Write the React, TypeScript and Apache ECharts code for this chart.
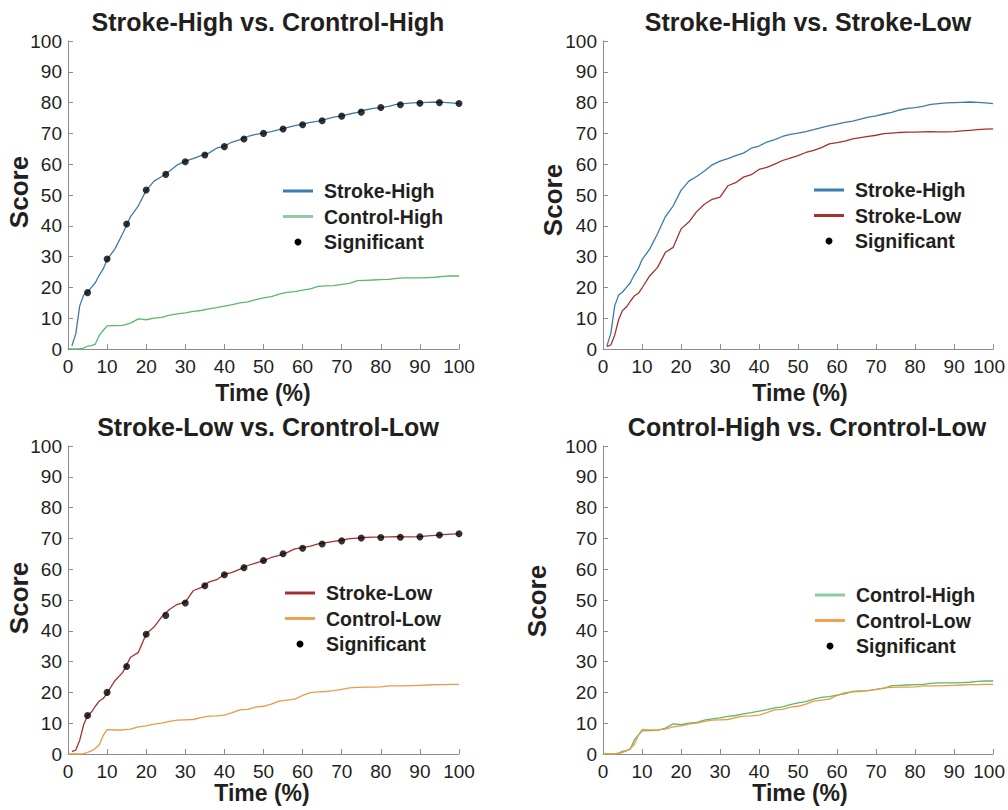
import React, { useEffect, useRef } from "react";
import * as echarts from "echarts";

const time = [0, 1, 2, 3, 4, 5, 6, 7, 8, 9, 10, 12, 14, 16, 18, 20, 22, 24, 26, 28, 30, 32, 34, 36, 38, 40, 42, 44, 46, 48, 50, 52, 54, 56, 58, 60, 62, 64, 66, 68, 70, 72, 74, 76, 78, 80, 82, 84, 86, 88, 90, 92, 94, 96, 98, 100];

const strokeHigh = [null, 1, 5, 14, 17.5, 18.5, 20, 21.5, 24, 26, 29, 32.5, 37.5, 43, 46.5, 51.5, 54.5, 56, 57.8, 59.8, 61, 61.8, 62.8, 63.6, 65.2, 65.9, 67.2, 68, 69, 69.7, 70.1, 70.6, 71.2, 71.9, 72.5, 73, 73.6, 74, 74.6, 75.3, 75.7, 76.3, 76.8, 77.6, 78.1, 78.4, 78.8, 79.4, 79.7, 79.9, 80, 80.1, 80.2, 80.1, 79.9, 79.7];

const strokeLow = [null, 0.8, 1.3, 4.5, 9.5, 12.5, 13.6, 15.5, 17.2, 18, 19.8, 23.8, 26.5, 31.4, 33, 39, 41.2, 44.6, 47, 48.6, 49.3, 53, 54, 55.8, 56.6, 58.3, 59, 60, 61.2, 62, 62.8, 63.8, 64.5, 65.4, 66.6, 67, 67.5, 68.2, 68.6, 69, 69.4, 69.9, 70.1, 70.3, 70.4, 70.4, 70.5, 70.6, 70.5, 70.5, 70.6, 70.8, 71, 71.2, 71.4, 71.5];

const controlHigh = [0, 0, 0, 0.1, 0.3, 0.9, 1.1, 1.6, 4.5, 6, 7.5, 7.6, 7.7, 8.4, 9.8, 9.5, 10, 10.3, 11, 11.4, 11.7, 12.2, 12.5, 13, 13.4, 13.9, 14.4, 15, 15.3, 16, 16.6, 17, 17.8, 18.4, 18.6, 19.1, 19.5, 20.3, 20.5, 20.6, 21, 21.3, 22.2, 22.3, 22.4, 22.5, 22.6, 22.9, 23.1, 23.1, 23.1, 23.2, 23.3, 23.6, 23.7, 23.7];

const controlLow = [0, 0, 0, 0, 0.1, 0.5, 1, 1.8, 3, 6, 7.9, 7.8, 7.8, 8.1, 8.8, 9.1, 9.7, 10, 10.6, 11, 11.1, 11.2, 11.8, 12.3, 12.4, 12.6, 13.4, 14.3, 14.5, 15.2, 15.5, 16.2, 17.2, 17.5, 17.8, 19, 19.9, 20.2, 20.3, 20.6, 21, 21.5, 21.6, 21.7, 21.7, 21.8, 22.1, 22.1, 22.1, 22.2, 22.3, 22.4, 22.5, 22.5, 22.6, 22.6];

const sigTime = [5, 10, 15, 20, 25, 30, 35, 40, 45, 50, 55, 60, 65, 70, 75, 80, 85, 90, 95, 100];
const sigStrokeHigh = [18.3, 29.2, 40.6, 51.6, 56.7, 60.8, 63.0, 65.7, 68.2, 70.0, 71.4, 72.8, 74.1, 75.6, 76.9, 78.4, 79.3, 79.8, 80.0, 79.7];
const sigStrokeLow = [12.5, 20.0, 28.4, 38.9, 45.0, 49.0, 54.6, 58.2, 60.5, 62.8, 65.0, 66.8, 68.2, 69.2, 70.1, 70.3, 70.4, 70.5, 71.1, 71.5];

const xTicks = [0, 10, 20, 30, 40, 50, 60, 70, 80, 90, 100];

const titles = [
  "Stroke-High vs. Crontrol-High",
  "Stroke-High vs. Stroke-Low",
  "Stroke-Low vs. Crontrol-Low",
  "Control-High vs. Crontrol-Low",
];

const COLORS: Record<string, string> = {
  "Stroke-High": "#3b7bab",
  "Control-High": "#5cb86a",
  "Stroke-Low": "#a6302f",
  "Control-Low": "#eb9a45",
};
const LEGEND_COLORS: Record<string, string> = {
  "Stroke-High": "#3a7db0",
  "Control-High": "#8ecaa6",
  "Stroke-Low": "#a6302f",
  "Control-Low": "#eda24f",
};

const SERIES_DATA: Record<string, (number | null)[]> = {
  "Stroke-High": strokeHigh,
  "Control-High": controlHigh,
  "Stroke-Low": strokeLow,
  "Control-Low": controlLow,
};

const panels = [
  { names: ["Stroke-High", "Control-High"], sig: sigStrokeHigh, left: 68, top: 41, titleX: 268, scoreX: 19, scoreY: 192, timeX: 263, timeY: 393, legX: 283, legY: 191 },
  { names: ["Stroke-High", "Stroke-Low"], sig: null, left: 603, top: 41, titleX: 808, scoreX: 553, scoreY: 200, timeX: 800, timeY: 393, legX: 814, legY: 190 },
  { names: ["Stroke-Low", "Control-Low"], sig: sigStrokeLow, left: 68, top: 446, titleX: 268, scoreX: 19, scoreY: 598, timeX: 262, timeY: 793, legX: 285, legY: 593 },
  { names: ["Control-High", "Control-Low"], sig: null, left: 603, top: 446, titleX: 807, scoreX: 537, scoreY: 601, timeX: 800, timeY: 793, legX: 815, legY: 595 },
];

const W = 391;
const H = 308;
const FONT = "'Liberation Sans', Arial, sans-serif";
const TEXT = "#231f20";

export default function App() {
  const ref = useRef<HTMLDivElement>(null);
  useEffect(() => {
    if (!ref.current) return;
    const chart = echarts.init(ref.current, undefined, { renderer: "svg" });
    const grid: any[] = [];
    const xAxis: any[] = [];
    const yAxis: any[] = [];
    const series: any[] = [];
    const graphic: any[] = [];

    panels.forEach((p, i) => {
      const rightPanel = i % 2 === 1;
      grid.push({ left: p.left, top: p.top, width: W, height: H, containLabel: false });
      xAxis.push({
        type: "value",
        gridIndex: i,
        min: 0,
        max: 100,
        interval: 10,
        axisLine: { show: true, lineStyle: { color: "#8c8c8c", width: 1 } },
        axisTick: { show: true, inside: true, length: 5, lineStyle: { color: "#8c8c8c" } },
        axisLabel: {
          fontFamily: FONT,
          fontSize: 19,
          color: TEXT,
          margin: 8,
          formatter: (v: number) => {
            if (!xTicks.includes(v)) return "";
            if (v === 100 && rightPanel) return "{r|100}";
            return String(v);
          },
          rich: { r: { fontFamily: FONT, fontSize: 19, color: TEXT, padding: [0, 8, 0, 0] } },
        },
        splitLine: { show: false },
      });
      yAxis.push({
        type: "value",
        gridIndex: i,
        min: 0,
        max: 100,
        interval: 10,
        axisLine: { show: true, lineStyle: { color: "#8c8c8c", width: 1 } },
        axisTick: { show: true, inside: true, length: 5, lineStyle: { color: "#8c8c8c" } },
        axisLabel: { fontFamily: FONT, fontSize: 19, color: TEXT, margin: 6 },
        splitLine: { show: false },
      });
      p.names.forEach((n) => {
        series.push({
          type: "line",
          name: n,
          xAxisIndex: i,
          yAxisIndex: i,
          data: time.map((t, k) => [t, SERIES_DATA[n][k]]),
          showSymbol: false,
          symbol: "none",
          connectNulls: false,
          lineStyle: { color: COLORS[n], width: 1.3 },
          z: 2,
        });
      });
      if (p.sig) {
        series.push({
          type: "scatter",
          name: "Significant",
          xAxisIndex: i,
          yAxisIndex: i,
          data: sigTime.map((t, k) => [t, p.sig![k]]),
          symbol: "circle",
          symbolSize: 7,
          itemStyle: { color: "#000" },
          z: 3,
        });
      }
      graphic.push({
        type: "text",
        x: p.titleX,
        y: p.top - 19,
        style: { text: titles[i], fontFamily: FONT, fontSize: 25, fontWeight: "bold", fill: TEXT, textAlign: "center", textVerticalAlign: "middle" },
      });
      graphic.push({
        type: "text",
        x: p.timeX,
        y: p.timeY,
        style: { text: "Time (%)", fontFamily: FONT, fontSize: 23, fontWeight: "bold", fill: TEXT, textAlign: "center", textVerticalAlign: "middle" },
      });
      graphic.push({
        type: "text",
        x: p.scoreX,
        y: p.scoreY,
        rotation: Math.PI / 2,
        style: { text: "Score", fontFamily: FONT, fontSize: 26, fontWeight: "bold", fill: TEXT, textAlign: "center", textVerticalAlign: "middle" },
      });
      const legendItems = [p.names[0], p.names[1], "Significant"];
      legendItems.forEach((n, k) => {
        const y = p.legY + k * 25.5;
        if (n === "Significant") {
          graphic.push({ type: "circle", shape: { cx: p.legX + 15, cy: y, r: 3.5 }, style: { fill: "#000" } });
        } else {
          graphic.push({ type: "line", shape: { x1: p.legX, y1: y, x2: p.legX + 30, y2: y }, style: { stroke: LEGEND_COLORS[n], lineWidth: 3 } });
        }
        graphic.push({
          type: "text",
          x: p.legX + 41,
          y,
          style: { text: n, fontFamily: FONT, fontSize: 19.5, fontWeight: "bold", fill: TEXT, textAlign: "left", textVerticalAlign: "middle" },
        });
      });
    });

    chart.setOption({
      animation: false,
      backgroundColor: "#ffffff",
      grid,
      xAxis,
      yAxis,
      series,
      graphic,
    });
    return () => chart.dispose();
  }, []);
  return <div ref={ref} style={{ position: "fixed", left: 0, top: 0, width: 1008, height: 810 }} />;
}
